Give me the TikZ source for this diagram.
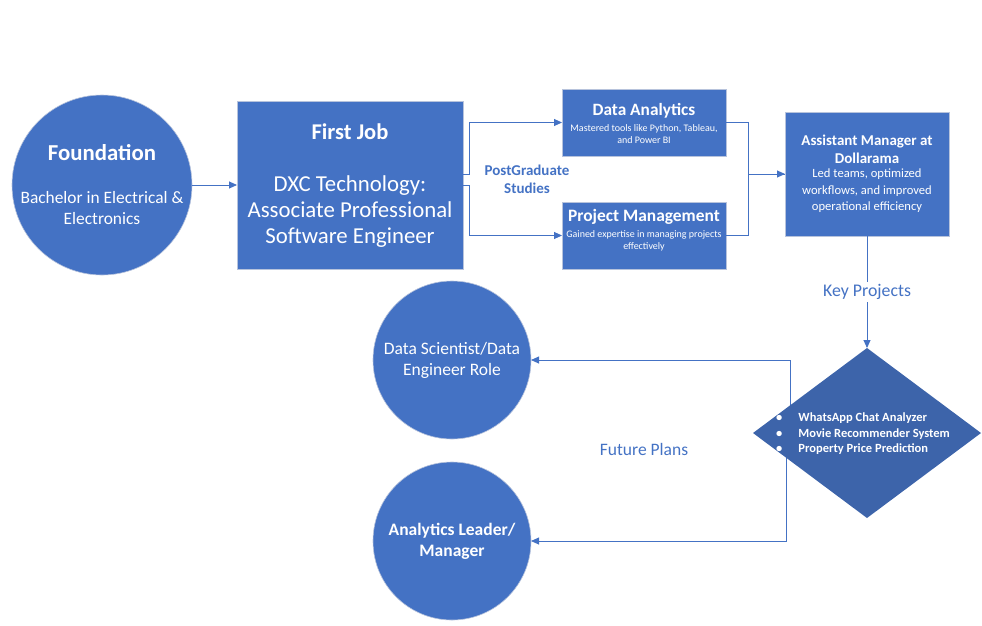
\documentclass[tikz,border=0pt]{standalone}
\usepackage{fontspec}
\setmainfont{Carlito}
\usetikzlibrary{arrows.meta,shapes.geometric}
\definecolor{obl}{HTML}{4472C4}
\definecolor{dbl}{HTML}{3D64AA}
\definecolor{edgec}{HTML}{B7C3DC}
\newcommand{\fs}[2]{\fontsize{#1}{#2}\selectfont}
\begin{document}
\begin{tikzpicture}[x=1pt,y=-1pt,
  circ/.style={circle,fill=obl,draw=edgec,line width=0.6pt,inner sep=0pt,outer sep=0pt},
  boxx/.style={rectangle,fill=obl,draw=edgec,line width=0.8pt,inner sep=0pt,outer sep=0pt},
  wt/.style={text=white,align=center,inner sep=0pt},
  bt/.style={text=obl,align=center,inner sep=1pt},
  conn/.style={draw=obl,line width=0.9pt},
  arr/.style={conn,-{Triangle[length=8pt,width=7pt]}}]
\useasboundingbox (0,0) rectangle (982,625);

% connectors behind the diamond
\coordinate (c1) at (790,434);
\coordinate (c2) at (786,434);

% nodes
\node[circ,minimum size=180] (found) at (102,185) {};
\node[wt,font=\bfseries\fs{22.8}{26}] (foundT) at (102,153) {Foundation};
\node[wt,font=\fs{17.4}{21}] (foundS) at (102,208.5) {Bachelor in Electrical \&\\Electronics};

\node[boxx,minimum width=226,minimum height=168] (job) at (350,185) {};
\node[wt,font=\bfseries\fs{22.5}{26}] (jobT) at (350,132) {First Job};
\node[wt,font=\fs{22.8}{26}] (jobS) at (350,212) {DXC Technology:\\Associate Professional\\Software Engineer};

\node[boxx,minimum width=164,minimum height=67] (da) at (644,122.5) {};
\node[wt,font=\bfseries\fs{17.3}{20}] (daT) at (644,111) {Data Analytics};
\node[wt,font=\fs{10}{12.5}] (daS) at (644,134) {Mastered tools like Python, Tableau,\\and Power BI};

\node[boxx,minimum width=164,minimum height=67] (pm) at (644,235.5) {};
\node[wt,font=\bfseries\fs{17.4}{20}] (pmT) at (644,217) {Project Management};
\node[wt,font=\fs{10}{12.5}] (pmS) at (644,241) {Gained expertise in managing projects\\effectively};

\node[boxx,minimum width=164,minimum height=124] (am) at (867,174) {};
\node[wt,font=\bfseries\fs{15}{18}] (amT) at (867,149) {Assistant Manager at\\Dollarama};
\node[wt,font=\fs{12.6}{16.5}] (amS) at (867,191) {Led teams, optimized\\workflows, and improved\\operational efficiency};

\node[circ,minimum size=158] (ds) at (452,360) {};
\node[wt,font=\fs{17.5}{21}] (dsT) at (452,360.5) {Data Scientist/Data\\Engineer Role};

\node[circ,minimum size=158] (al) at (452,541) {};
\node[wt,font=\bfseries\fs{17.5}{21}] (alT) at (452,541.5) {Analytics Leader/\\Manager};

% connectors
\draw[arr] (found) -- (job);
\draw[arr] ([yshift=11pt]job.east) -- ++(6,0) |- (da.west);
\draw[arr] (job.east) -- ++(6,0) |- (pm.west);
\draw[conn] (pm.east) -- ++(22,0) |- (am.west);
\draw[arr] (da.east) -- ++(22,0) |- (am.west);
\draw[arr] (c1) |- (ds.east);
\draw[arr] (c2) |- (al.east);

\node[diamond,fill=dbl,minimum width=228,minimum height=170,inner sep=0pt,outer sep=0pt] (proj) at (867,433) {};
\node[wt,anchor=west,font=\bfseries\fs{12.5}{15.5}] (projT) at (776,434)
  {\begin{tabular}{@{}l@{\hspace{16pt}}l@{}}\textbullet & WhatsApp Chat Analyzer\\ \textbullet & Movie Recommender System\\ \textbullet & Property Price Prediction\end{tabular}};

\draw[arr] (am.south) -- node[bt,fill=white,font=\fs{17.8}{20},inner sep=2pt] (kp) {Key Projects} (proj.north);

\node[bt,font=\bfseries\fs{15}{18}] (pg) at (527,179) {PostGraduate\\Studies};
\node[bt,font=\fs{17.5}{20}] (fp) at (644,449) {Future Plans};
\end{tikzpicture}
\end{document}
